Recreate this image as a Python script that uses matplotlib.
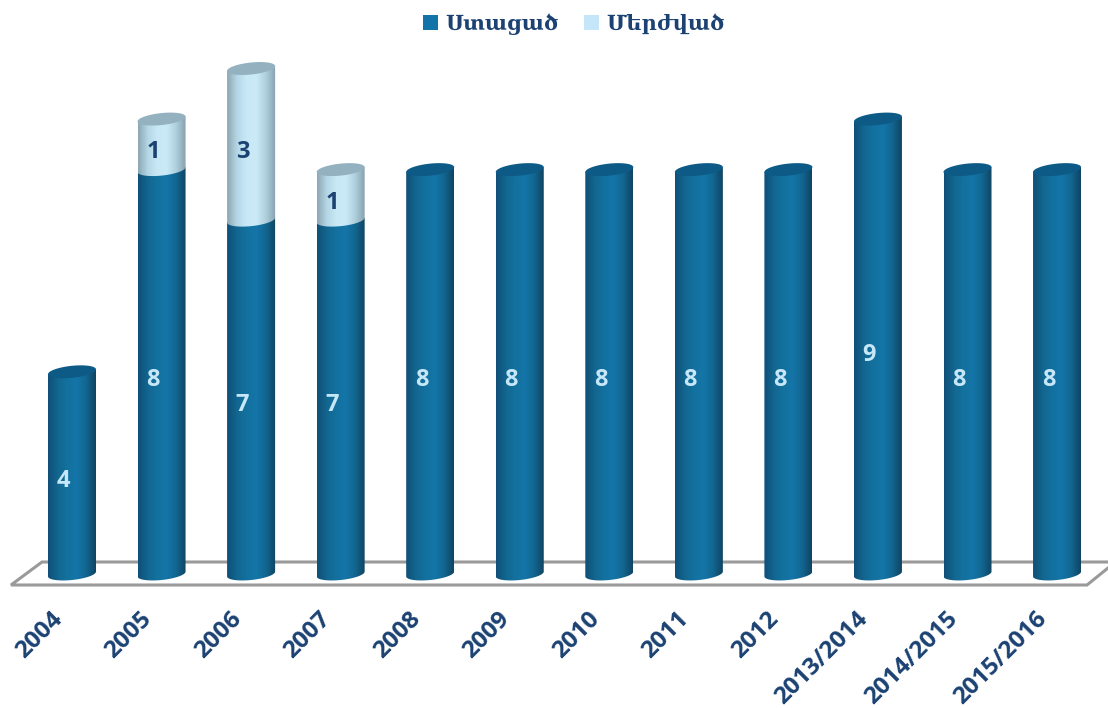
import numpy as np
import matplotlib
matplotlib.use('Agg')
import matplotlib.pyplot as plt
from matplotlib.patches import PathPatch, Patch, Polygon
from matplotlib.path import Path
from matplotlib.transforms import ScaledTranslation

categories = ['2004', '2005', '2006', '2007', '2008', '2009', '2010', '2011', '2012',
              '2013/2014', '2014/2015', '2015/2016']
accepted = [4, 8, 7, 7, 8, 8, 8, 8, 8, 9, 8, 8]
rejected = [0, 1, 3, 1, 0, 0, 0, 0, 0, 0, 0, 0]
legend_labels = ['Ստացած', 'Մերժված']

W, H = 1108, 708
X0, DX = 72, 89.55      # pixel of first bar, pixels per category
Y0, DY = 574, 50.55     # pixel of value 0, pixels per unit
FLOOR = 585

DARK = ['#0f4f78', '#12668f', '#13719f', '#1475a8', '#126690', '#0f4463']
LIGHT = ['#8da7b3', '#b4d6e5', '#c8e8f6', '#cbeaf8', '#aecfdd', '#87a1ad']
DARK_CAP = '#0d5a86'
LIGHT_CAP = '#93b1bf'
TEXT = '#1b4272'

fig = plt.figure(figsize=(W / 100, H / 100), dpi=100)
ax = fig.add_axes([0, 1 - FLOOR / H, 1, FLOOR / H])


def px_x(p):
    return (p - X0) / DX


def px_y(p):
    return (Y0 - p) / DY


RX = 24 / DX
RY = 6 / DY
TILT = 2.4 / DY


def ellipse(t):
    return RX * np.cos(t), RY * np.sin(t) + TILT * np.cos(t)


def gradient(stops):
    rgb = np.array([matplotlib.colors.to_rgb(c) for c in stops])
    pos = np.linspace(0, 1, len(stops))
    xs = np.linspace(0, 1, 96)
    return np.stack([np.interp(xs, pos, rgb[:, k]) for k in range(3)], axis=1)[None, :, :]


def cylinder(i, v0, v1, stops, cap=None, z=3):
    t = np.linspace(np.pi, 2 * np.pi, 50)
    ex, ey = ellipse(t)
    xs = np.r_[i + ex, i + RX, i - RX]
    ys = np.r_[v0 + ey, v1 + TILT, v1 - TILT]
    clip = PathPatch(Path(np.c_[xs, ys]), transform=ax.transData, fc='none', ec='none')
    ax.add_patch(clip)
    im = ax.imshow(gradient(stops), extent=(i - RX, i + RX, v0 - 0.3, v1 + 0.1),
                   aspect='auto', zorder=z, interpolation='bilinear')
    im.set_clip_path(clip)
    im.set_clip_on(True)
    if cap is not None:
        t = np.linspace(0, 2 * np.pi, 90)
        ex, ey = ellipse(t)
        ax.add_patch(Polygon(np.c_[i + ex, v1 + ey], fc=cap, ec='none', zorder=z + 0.5,
                             clip_on=False))


# floor
ax.plot(px_x(np.array([1108, 42, 11, 1087, 1108])),
        px_y(np.array([562, 562, FLOOR, FLOOR, 568])),
        color='#9a9a9a', lw=2.2, zorder=1, clip_on=False, solid_joinstyle='miter')

for i, (a, r) in enumerate(zip(accepted, rejected)):
    cylinder(i, 0, a, DARK, cap=None if r else DARK_CAP, z=3)
    if r:
        cylinder(i, a, a + r, LIGHT, cap=LIGHT_CAP, z=4)
    ax.text(i - 8.5 / DX, a / 2 - 8 / DY, str(a), color='#c6e7f8', fontsize=17, fontweight='bold',
            family='Open Sans', ha='center', va='center', zorder=6)
    if r:
        ax.text(i - 8.5 / DX, a + r / 2 - 8 / DY, str(r), color=TEXT, fontsize=17, fontweight='bold',
                family='Open Sans', ha='center', va='center', zorder=6)

ax.set_xlim(px_x(0), px_x(W))
ax.set_ylim(px_y(FLOOR), px_y(0))
ax.set_xticks(range(len(categories)))
ax.set_xticklabels(categories, rotation=45, ha='right', va='top', rotation_mode='anchor',
                   family='Open Sans', fontweight='bold', fontsize=17.5, color=TEXT)
ax.tick_params(axis='x', length=0, pad=16)
ax.set_yticks([])
for s in ax.spines.values():
    s.set_visible(False)
ax.patch.set_visible(False)
shift = ScaledTranslation(-22 / 100, 0, fig.dpi_scale_trans)
for lab in ax.get_xticklabels():
    lab.set_transform(lab.get_transform() + shift)

handles = [Patch(fc='#1273a8', ec='none'), Patch(fc='#c5e6f8', ec='none')]
leg = ax.legend(handles, legend_labels, loc='center', bbox_to_anchor=(574 / W, 1 - 24 / FLOOR),
                ncol=2, frameon=False, handlelength=0.72, handleheight=0.72, handletextpad=0.35,
                columnspacing=1.2, labelcolor=TEXT, borderpad=0,
                prop={'family': 'DejaVu Serif', 'size': 15, 'weight': 'bold'})

fig.savefig('out.png', dpi=100)
